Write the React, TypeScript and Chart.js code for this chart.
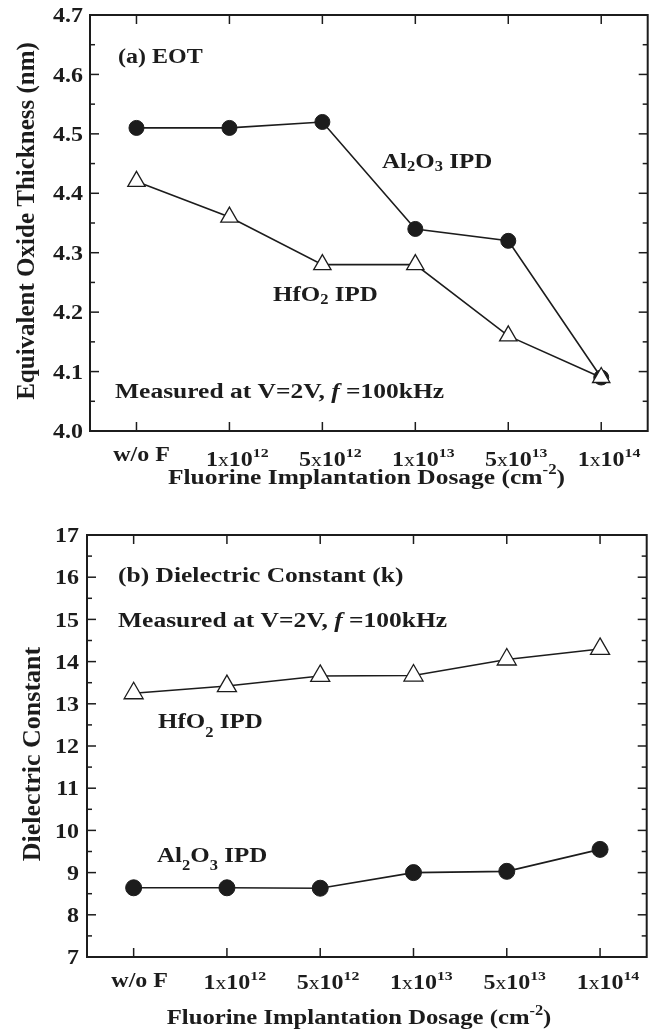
import { useEffect, useRef } from 'react';
import { Chart, registerables } from 'chart.js';

Chart.register(...registerables);

// Implantation dose categories: ^{..} superscript, #{..} light glyph
const doseCategories = ['w/o F', '1#{x}10^{12}', '5#{x}10^{12}', '1#{x}10^{13}', '5#{x}10^{13}', '1#{x}10^{14}'];

// (a) equivalent oxide thickness, nm
const eotAl2O3 = [4.51, 4.51, 4.52, 4.34, 4.32, 4.09];
const eotHfO2 = [4.42, 4.36, 4.28, 4.28, 4.16, 4.09];

// (b) dielectric constant
const kHfO2 = [13.25, 13.42, 13.66, 13.67, 14.05, 14.3];
const kAl2O3 = [8.64, 8.64, 8.63, 9.0, 9.03, 9.55];

// y-axis [min, max, minor step]
const eotRange = [4.0, 4.7, 0.05];
const kRange = [7, 17, 0.5];

const SERIF = '"Liberation Serif", "Times New Roman", serif';
const INK = '#1c1c1c';

type Seg = { t: string; kind: 'n' | 'sup' | 'sub' | 'it' | 'lt' };

function parseRich(s: string): Seg[] {
  const out: Seg[] = [];
  const re = /([\^_*#])\{([^}]*)\}/g;
  let last = 0;
  let m: RegExpExecArray | null;
  while ((m = re.exec(s))) {
    if (m.index > last) out.push({ t: s.slice(last, m.index), kind: 'n' });
    const k = m[1] === '^' ? 'sup' : m[1] === '_' ? 'sub' : m[1] === '*' ? 'it' : 'lt';
    out.push({ t: m[2], kind: k as Seg['kind'] });
    last = re.lastIndex;
  }
  if (last < s.length) out.push({ t: s.slice(last), kind: 'n' });
  return out;
}

function segFont(seg: Seg, size: number) {
  const small = seg.kind === 'sup' || seg.kind === 'sub';
  const sz = small ? size * 0.66 : seg.kind === 'lt' ? size * 0.9 : size;
  const weight = seg.kind === 'lt' ? 'normal' : 'bold';
  const style = seg.kind === 'it' ? 'italic ' : '';
  return `${style}${weight} ${sz}px ${SERIF}`;
}

interface TextOpts {
  size: number;
  align?: 'left' | 'center' | 'right';
  sy?: number;
  subDrop?: number;
  anchorBase?: boolean;
}

function drawRich(ctx: CanvasRenderingContext2D, text: string, x: number, y: number, o: TextOpts) {
  const segs = parseRich(text);
  const sy = o.sy ?? 0.85;
  ctx.save();
  ctx.translate(x, y);
  ctx.scale(1, sy);
  ctx.textBaseline = 'alphabetic';
  ctx.textAlign = 'left';
  ctx.fillStyle = INK;
  const widths = segs.map((s) => {
    ctx.font = segFont(s, o.size);
    return ctx.measureText(s.t).width;
  });
  const total = widths.reduce((a, b) => a + b, 0);
  const anchorW = o.anchorBase
    ? segs.reduce((acc, s, i) => (s.kind === 'sup' ? acc : acc + widths[i]), 0)
    : total;
  let cx = o.align === 'center' ? -anchorW / 2 : o.align === 'right' ? -anchorW : 0;
  segs.forEach((s, i) => {
    ctx.font = segFont(s, o.size);
    const dy = s.kind === 'sup' ? -o.size * 0.45 : s.kind === 'sub' ? o.size * (o.subDrop ?? 0.18) : 0;
    ctx.fillText(s.t, cx, dy);
    cx += widths[i];
  });
  ctx.restore();
}

interface Note {
  text: string;
  x: number;
  y: number;
  size: number;
  subDrop?: number;
}

interface Panel {
  w: number;
  h: number;
  top: number;
  area: { left: number; top: number; right: number; bottom: number };
  range: number[];
  decimals: number;
  hf: number[];
  al: number[];
  yTitle: string;
  yTitleX: number;
  yTitleY: number;
  yTitleSize: number;
  tickSize: number;
  tickGap: number;
  xTickY: number;
  xTickPlainY: number;
  plainShift: number;
  xTitle: string;
  xTitleX: number;
  xTitleY: number;
  xTitleSize: number;
  notes: Note[];
  dotR: number;
  triR: number;
}

const panelA: Panel = {
  w: 659,
  h: 505,
  top: 0,
  area: { left: 90, top: 15, right: 648, bottom: 431 },
  range: eotRange,
  decimals: 1,
  hf: eotHfO2,
  al: eotAl2O3,
  yTitle: 'Equivalent Oxide Thickness (nm)',
  yTitleX: 33.5,
  yTitleY: 221,
  yTitleSize: 25,
  tickSize: 24,
  tickGap: 7,
  xTickY: 466,
  xTickPlainY: 461,
  plainShift: 5,
  xTitle: 'Fluorine Implantation Dosage (cm^{-2})',
  xTitleX: 366.5,
  xTitleY: 483.5,
  xTitleSize: 25.5,
  notes: [
    { text: '(a) EOT', x: 118, y: 62.7, size: 24 },
    { text: 'Al_{2}O_{3} IPD', x: 382, y: 168, size: 25, subDrop: 0.14 },
    { text: 'HfO_{2} IPD', x: 273, y: 301, size: 25, subDrop: 0.14 },
    { text: 'Measured at V=2V, *{f} =100kHz', x: 115, y: 398, size: 25.5 },
  ],
  dotR: 7.5,
  triR: 10,
};

const panelB: Panel = {
  w: 659,
  h: 531,
  top: 505,
  area: { left: 87, top: 30, right: 654, bottom: 452 },
  range: kRange,
  decimals: 0,
  hf: kHfO2,
  al: kAl2O3,
  yTitle: 'Dielectric Constant',
  yTitleX: 40,
  yTitleY: 249,
  yTitleSize: 26,
  tickSize: 24,
  tickGap: 8,
  xTickY: 484,
  xTickPlainY: 482,
  plainShift: 6,
  xTitle: 'Fluorine Implantation Dosage (cm^{-2})',
  xTitleX: 359,
  xTitleY: 519,
  xTitleSize: 24.7,
  notes: [
    { text: '(b) Dielectric Constant (k)', x: 118, y: 76.7, size: 25.5 },
    { text: 'Measured at V=2V, *{f} =100kHz', x: 118, y: 121.7, size: 25.5 },
    { text: 'HfO_{2} IPD', x: 158, y: 223, size: 25, subDrop: 0.4 },
    { text: 'Al_{2}O_{3} IPD', x: 157, y: 356.7, size: 25, subDrop: 0.4 },
  ],
  dotR: 8,
  triR: 11,
};

// Boxed frame with inward ticks, tick labels, axis titles and annotations
const framePlugin = {
  id: 'frame',
  afterDatasetsDraw(chart: any, _args: any, opts: any) {
    const p: Panel = opts.panel;
    const { ctx, chartArea: a, scales } = chart;
    const xs = scales.x;
    const ys = scales.y;
    const seg = (x1: number, y1: number, x2: number, y2: number) => {
      ctx.beginPath();
      ctx.moveTo(x1, y1);
      ctx.lineTo(x2, y2);
      ctx.stroke();
    };
    ctx.save();
    ctx.strokeStyle = INK;
    ctx.lineWidth = 1.5;
    xs.ticks.forEach((_t: any, i: number) => {
      const px = xs.getPixelForTick(i);
      seg(px, a.bottom, px, a.bottom - 9);
      seg(px, a.top, px, a.top + 9);
    });
    const major = p.range[2] * 2;
    ys.ticks.forEach((t: any, i: number) => {
      const py = ys.getPixelForTick(i);
      const r = t.value / major;
      const isMajor = Math.abs(r - Math.round(r)) < 1e-6;
      const len = isMajor ? 9 : 5;
      seg(a.left, py, a.left + len, py);
      seg(a.right, py, a.right - len, py);
      if (isMajor) {
        drawRich(ctx, t.value.toFixed(p.decimals), a.left - p.tickGap, py + 0.338 * p.tickSize * 0.88, {
          size: p.tickSize,
          align: 'right',
          sy: 0.88,
        });
      }
    });
    ctx.lineWidth = 2;
    ctx.strokeRect(a.left, a.top, a.right - a.left, a.bottom - a.top);

    // category labels
    (chart.data.labels as string[]).forEach((lab, i) => {
      const px = xs.getPixelForTick(i);
      const plain = !lab.includes('^');
      drawRich(ctx, lab, plain ? px + p.plainShift : px, plain ? p.xTickPlainY : p.xTickY, {
        size: p.tickSize,
        align: 'center',
        anchorBase: true,
      });
    });

    drawRich(ctx, p.xTitle, p.xTitleX, p.xTitleY, { size: p.xTitleSize, align: 'center' });

    ctx.save();
    ctx.translate(p.yTitleX, p.yTitleY);
    ctx.rotate(-Math.PI / 2);
    ctx.fillStyle = INK;
    ctx.font = `bold ${p.yTitleSize}px ${SERIF}`;
    ctx.textAlign = 'center';
    ctx.textBaseline = 'alphabetic';
    ctx.fillText(p.yTitle, 0, 0);
    ctx.restore();

    p.notes.forEach((n) => drawRich(ctx, n.text, n.x, n.y, { size: n.size, subDrop: n.subDrop }));
    ctx.restore();
  },
};

function PanelChart({ p }: { p: Panel }) {
  const ref = useRef<HTMLCanvasElement | null>(null);
  useEffect(() => {
    if (!ref.current) return;
    const chart = new Chart(ref.current, {
      type: 'line',
      data: {
        labels: doseCategories,
        datasets: [
          {
            label: 'HfO2 IPD',
            data: p.hf,
            borderColor: INK,
            borderWidth: 1.6,
            pointStyle: 'triangle',
            pointRadius: p.triR,
            pointBackgroundColor: '#ffffff',
            pointBorderColor: INK,
            pointBorderWidth: 1.3,
            tension: 0,
            clip: false,
          },
          {
            label: 'Al2O3 IPD',
            data: p.al,
            borderColor: INK,
            borderWidth: 1.6,
            pointStyle: 'circle',
            pointRadius: p.dotR,
            pointBackgroundColor: INK,
            pointBorderColor: INK,
            pointBorderWidth: 1,
            tension: 0,
            clip: false,
          },
        ],
      },
      options: {
        responsive: false,
        animation: false,
        devicePixelRatio: 1,
        events: [],
        layout: { padding: { left: 0, top: p.area.top, right: p.w - p.area.right, bottom: 0 } },
        plugins: {
          legend: { display: false },
          tooltip: { enabled: false },
          frame: { panel: p },
        } as any,
        scales: {
          x: {
            type: 'category',
            offset: true,
            grid: { display: false },
            border: { display: false },
            ticks: { display: false },
            afterFit: (s: any) => {
              s.height = p.h - p.area.bottom;
            },
          },
          y: {
            type: 'linear',
            min: p.range[0],
            max: p.range[1],
            grid: { display: false },
            border: { display: false },
            ticks: { display: false, stepSize: p.range[2] },
            afterFit: (s: any) => {
              s.width = p.area.left;
            },
          },
        },
      },
      plugins: [framePlugin],
    });
    return () => chart.destroy();
  }, [p]);
  return (
    <canvas
      ref={ref}
      width={p.w}
      height={p.h}
      style={{ position: 'absolute', left: 0, top: p.top, width: p.w, height: p.h }}
    />
  );
}

export default function App() {
  return (
    <div style={{ position: 'absolute', left: 0, top: 0, width: 659, height: 1036, background: '#ffffff' }}>
      <PanelChart p={panelA} />
      <PanelChart p={panelB} />
    </div>
  );
}
